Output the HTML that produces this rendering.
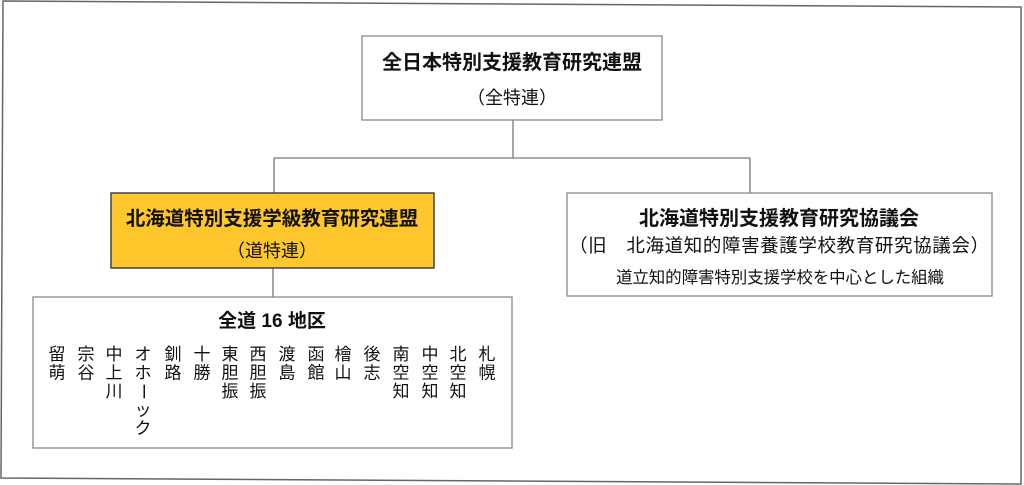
<!DOCTYPE html>
<html><head><meta charset="utf-8"><style>
html,body{margin:0;padding:0;background:#fff;}
svg{display:block;}
text{font-family:"Liberation Sans","Noto Sans CJK JP",sans-serif;fill:#111;}
.b{font-weight:bold;}
</style></head><body>
<svg width="1024" height="485" viewBox="0 0 1024 485" xmlns="http://www.w3.org/2000/svg">
<polygon points="3,1 1021,7 1021,484 1,478" fill="#fff" stroke="#666" stroke-width="1.5"/>
<g stroke="#777" stroke-width="1.3" fill="none">
<line x1="513" y1="120" x2="513" y2="158"/>
<line x1="274" y1="158" x2="750" y2="158"/>
<line x1="274" y1="158" x2="274" y2="193"/>
<line x1="750" y1="158" x2="750" y2="193"/>
<line x1="273" y1="268" x2="273" y2="297"/>
</g>
<rect x="362" y="36" width="300" height="84" fill="#fff" stroke="#888" stroke-width="1.3"/>
<rect x="111" y="193" width="323" height="75" fill="#ffc72c" stroke="#444" stroke-width="1.5"/>
<rect x="567" y="193" width="425" height="103" fill="#fff" stroke="#888" stroke-width="1.3"/>
<rect x="33" y="297" width="479" height="151" fill="#fff" stroke="#888" stroke-width="1.3"/>

<text x="512" y="69" font-size="20" class="b" text-anchor="middle">全日本特別支援教育研究連盟</text>
<text x="512" y="104" font-size="18" text-anchor="middle">（全特連）</text>
<text x="272" y="225" font-size="19.5" class="b" text-anchor="middle">北海道特別支援学級教育研究連盟</text>
<text x="272" y="257" font-size="18" text-anchor="middle">（道特連）</text>
<text x="779" y="225" font-size="20" class="b" text-anchor="middle">北海道特別支援教育研究協議会</text>
<text x="779" y="252" font-size="18.5" text-anchor="middle" textLength="420">（旧　北海道知的障害養護学校教育研究協議会）</text>
<text x="780" y="283" font-size="16.5" text-anchor="middle" textLength="328">道立知的障害特別支援学校を中心とした組織</text>
<text x="272" y="327" font-size="19" class="b" text-anchor="middle">全道 16 地区</text>

<g font-size="17" text-anchor="middle">
<text x="487" y="360">札<tspan x="487" dy="18.5">幌</tspan></text>
<text x="458" y="360">北<tspan x="458" dy="18.5">空</tspan><tspan x="458" dy="18.5">知</tspan></text>
<text x="430" y="360">中<tspan x="430" dy="18.5">空</tspan><tspan x="430" dy="18.5">知</tspan></text>
<text x="401" y="360">南<tspan x="401" dy="18.5">空</tspan><tspan x="401" dy="18.5">知</tspan></text>
<text x="372" y="360">後<tspan x="372" dy="18.5">志</tspan></text>
<text x="343" y="360">檜<tspan x="343" dy="18.5">山</tspan></text>
<text x="316" y="360">函<tspan x="316" dy="18.5">館</tspan></text>
<text x="287" y="360">渡<tspan x="287" dy="18.5">島</tspan></text>
<text x="258" y="360">西<tspan x="258" dy="18.5">胆</tspan><tspan x="258" dy="18.5">振</tspan></text>
<text x="230" y="360">東<tspan x="230" dy="18.5">胆</tspan><tspan x="230" dy="18.5">振</tspan></text>
<text x="202" y="360">十<tspan x="202" dy="18.5">勝</tspan></text>
<text x="173" y="360">釧<tspan x="173" dy="18.5">路</tspan></text>
<text x="143" y="360">オ<tspan x="143" dy="18.5">ホ</tspan><tspan x="143" dy="37">ッ</tspan><tspan x="143" dy="18.5">ク</tspan></text>
<text x="143" y="391.5" transform="rotate(90 143 391.5)" dominant-baseline="central">ー</text>
<text x="114" y="360">中<tspan x="114" dy="18.5">上</tspan><tspan x="114" dy="18.5">川</tspan></text>
<text x="86" y="360">宗<tspan x="86" dy="18.5">谷</tspan></text>
<text x="57" y="360">留<tspan x="57" dy="18.5">萌</tspan></text>
</g>
</svg>
</body></html>
